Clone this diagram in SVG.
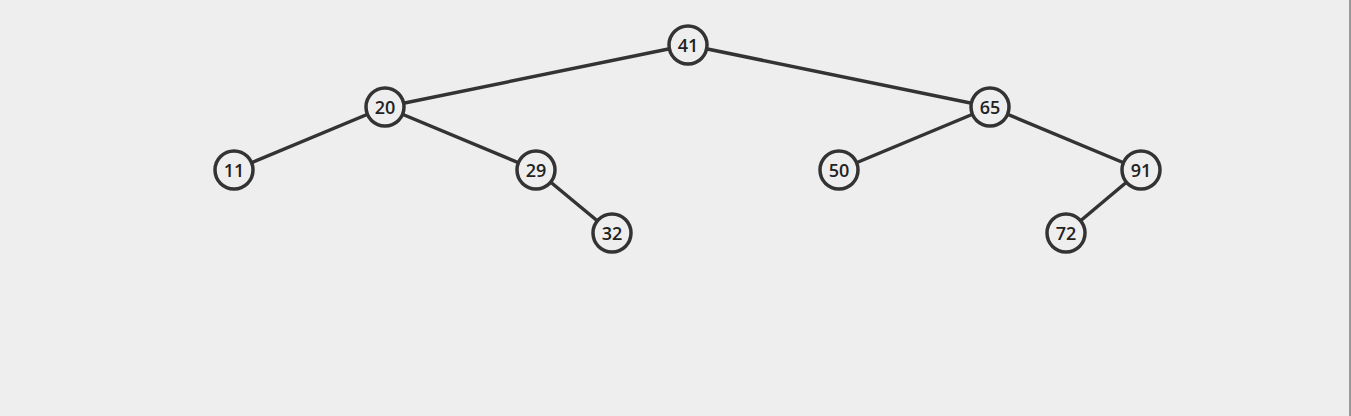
<svg xmlns="http://www.w3.org/2000/svg" width="1351" height="416" viewBox="0 0 1351 416">
<style>
.edge{stroke:#333;stroke-width:3.5;fill:none}
.node circle{fill:#eeeeee;stroke:#333;stroke-width:3.5}
.node text{font-family:"Open Sans","DejaVu Sans",sans-serif;font-size:18px;font-weight:600;fill:#222;text-anchor:middle;dominant-baseline:central}
</style>
<rect width="1351" height="416" fill="#eeeeee"/>
<line x1="1350" y1="0" x2="1350" y2="416" stroke="#999" stroke-width="2"/>
<g id="edges">
<line class="edge" x1="688" y1="45" x2="385" y2="107"/>
<line class="edge" x1="688" y1="45" x2="990" y2="107"/>
<line class="edge" x1="385" y1="107" x2="234" y2="170"/>
<line class="edge" x1="385" y1="107" x2="536" y2="170"/>
<line class="edge" x1="536" y1="170" x2="612" y2="233"/>
<line class="edge" x1="990" y1="107" x2="839" y2="170"/>
<line class="edge" x1="990" y1="107" x2="1141" y2="170"/>
<line class="edge" x1="1141" y1="170" x2="1066" y2="233"/>
</g>
<g id="n41" class="node"><circle cx="688" cy="45" r="19"/><text x="688" y="45">41</text></g>
<g id="n20" class="node"><circle cx="385" cy="107" r="19"/><text x="385" y="107">20</text></g>
<g id="n65" class="node"><circle cx="990" cy="107" r="19"/><text x="990" y="107">65</text></g>
<g id="n11" class="node"><circle cx="234" cy="170" r="19"/><text x="234" y="170">11</text></g>
<g id="n29" class="node"><circle cx="536" cy="170" r="19"/><text x="536" y="170">29</text></g>
<g id="n50" class="node"><circle cx="839" cy="170" r="19"/><text x="839" y="170">50</text></g>
<g id="n91" class="node"><circle cx="1141" cy="170" r="19"/><text x="1141" y="170">91</text></g>
<g id="n32" class="node"><circle cx="612" cy="233" r="19"/><text x="612" y="233">32</text></g>
<g id="n72" class="node"><circle cx="1066" cy="233" r="19"/><text x="1066" y="233">72</text></g>
</svg>
